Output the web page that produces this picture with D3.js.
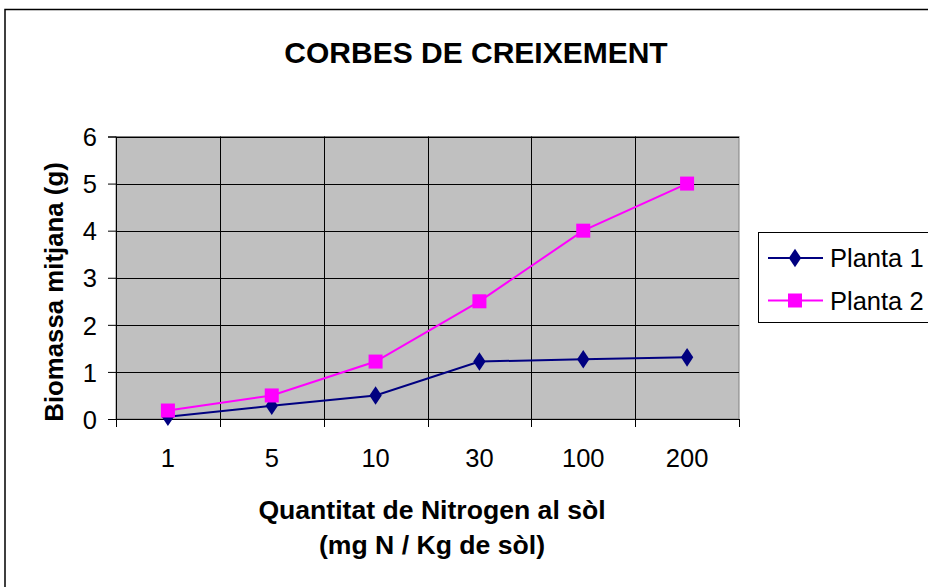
<!DOCTYPE html>
<html><head><meta charset="utf-8">
<script src="https://cdn.jsdelivr.net/npm/d3@7"></script>
<style>html,body{margin:0;padding:0;background:#fff;}svg{display:block;font-family:"Liberation Sans",Arial,sans-serif;}</style>
</head><body>
<svg id="c" width="928" height="587"></svg>
<script>
const categories = ["1", "5", "10", "30", "100", "200"];
const planta1 = [0.05, 0.28, 0.5, 1.22, 1.27, 1.31];
const planta2 = [0.18, 0.5, 1.22, 2.5, 4.0, 5.0];
const yTicks = [0, 1, 2, 3, 4, 5, 6];
const seriesNames = ["Planta 1", "Planta 2"];

const svg = d3.select("#c");
const m = {l:116, r:739, t:136.5, b:419};

// outer frame
svg.append("rect").attr("x",5).attr("y",9.5).attr("width",1000).attr("height",1000)
  .attr("fill","#fff").attr("stroke","#000").attr("stroke-width",1.5);

const x = d3.scaleBand().domain(categories).range([m.l, m.r]).padding(0);
const y = d3.scaleLinear().domain([0, 6]).range([m.b, m.t]);

// plot area
svg.append("rect").attr("x",m.l).attr("y",m.t).attr("width",m.r-m.l).attr("height",m.b-m.t)
  .attr("fill","#C0C0C0").attr("stroke","#808080").attr("stroke-width",1);

// horizontal grid
svg.append("g").selectAll("line").data(yTicks.slice(1)).join("line")
  .attr("x1",m.l).attr("x2",m.r).attr("y1",d=>Math.round(y(d))+0.5).attr("y2",d=>Math.round(y(d))+0.5)
  .attr("stroke","#000").attr("stroke-width",1);
// vertical grid at category boundaries
const bounds = categories.map(c=>x(c)).slice(1);
svg.append("g").selectAll("line").data(bounds).join("line")
  .attr("x1",d=>Math.round(d)+0.5).attr("x2",d=>Math.round(d)+0.5).attr("y1",m.t).attr("y2",m.b)
  .attr("stroke","#000").attr("stroke-width",1);

// y axis
const yAxis = d3.axisLeft(y).tickValues(yTicks).tickSize(8).tickPadding(11).tickFormat(d3.format("d"));
const ya = svg.append("g").attr("transform",`translate(${m.l},0)`).call(yAxis);
ya.select(".domain").attr("stroke","#000");
ya.selectAll(".tick line").attr("stroke","#000");
ya.selectAll(".tick text").attr("font-size",25.5).attr("fill","#000").attr("font-family","Liberation Sans, Arial, sans-serif").attr("dy","0.36em");

// x axis line + ticks at boundaries
const xa = svg.append("g").attr("transform",`translate(0,${m.b})`);
xa.append("line").attr("x1",m.l).attr("x2",m.r).attr("y1",0.5).attr("y2",0.5).attr("stroke","#000");
const allBounds = categories.map(c=>x(c)).concat([m.r]);
xa.selectAll("line.tk").data(allBounds).join("line").attr("class","tk")
  .attr("x1",d=>Math.round(d)+0.5).attr("x2",d=>Math.round(d)+0.5).attr("y1",0).attr("y2",8)
  .attr("stroke","#000");
xa.selectAll("text").data(categories).join("text")
  .attr("x",d=>x(d)+x.bandwidth()/2).attr("y",48).attr("text-anchor","middle")
  .attr("font-size",25.5).attr("fill","#000").text(d=>d);

// lines
const cx = c => x(c)+x.bandwidth()/2;
const line = d3.line().x((d,i)=>cx(categories[i])).y(d=>y(d));
svg.append("path").datum(planta1).attr("d",line).attr("fill","none").attr("stroke","#000080").attr("stroke-width",2);
svg.append("path").datum(planta2).attr("d",line).attr("fill","none").attr("stroke","#FF00FF").attr("stroke-width",2);

const diamond = d3.symbol().type(d3.symbolDiamond).size(100);
svg.append("g").selectAll("path").data(planta1).join("path")
  .attr("transform",(d,i)=>`translate(${cx(categories[i])},${y(d)}) scale(1.15,1)`)
  .attr("d",diamond).attr("fill","#000080");
svg.append("g").selectAll("rect").data(planta2).join("rect")
  .attr("x",(d,i)=>cx(categories[i])-7).attr("y",d=>y(d)-7).attr("width",14).attr("height",14)
  .attr("fill","#FF00FF");

// title
svg.append("text").attr("x",476).attr("y",63).attr("text-anchor","middle")
  .attr("font-size",30).attr("font-weight","bold").attr("fill","#000").text("CORBES DE CREIXEMENT");

// y title
svg.append("text").attr("transform","translate(63,292) rotate(-90)").attr("text-anchor","middle")
  .attr("font-size",25.8).attr("font-weight","bold").attr("fill","#000").text("Biomassa mitjana (g)");

// x title
svg.append("text").attr("x",432).attr("y",518.5).attr("text-anchor","middle")
  .attr("font-size",26.6).attr("font-weight","bold").attr("fill","#000").text("Quantitat de Nitrogen al sòl");
svg.append("text").attr("x",432).attr("y",553.5).attr("text-anchor","middle")
  .attr("font-size",26.6).attr("font-weight","bold").attr("fill","#000").text("(mg N / Kg de sòl)");

// legend
const lg = svg.append("g");
lg.append("rect").attr("x",758.5).attr("y",232.5).attr("width",300).attr("height",90)
  .attr("fill","#fff").attr("stroke","#000").attr("stroke-width",1);
const rows = [{name:seriesNames[0], col:"#000080", ly:258}, {name:seriesNames[1], col:"#FF00FF", ly:300.5}];
rows.forEach((r,i)=>{
  lg.append("line").attr("x1",768).attr("x2",823).attr("y1",r.ly).attr("y2",r.ly).attr("stroke",r.col).attr("stroke-width",2);
  if(i===0){
    lg.append("path").attr("transform",`translate(795,${r.ly}) scale(1.15,1)`).attr("d",diamond).attr("fill",r.col);
  } else {
    lg.append("rect").attr("x",788).attr("y",r.ly-7).attr("width",14).attr("height",14).attr("fill",r.col);
  }
  lg.append("text").attr("x",830).attr("y",r.ly+9).attr("font-size",25.5).attr("fill","#000").text(r.name);
});
</script>
</body></html>
